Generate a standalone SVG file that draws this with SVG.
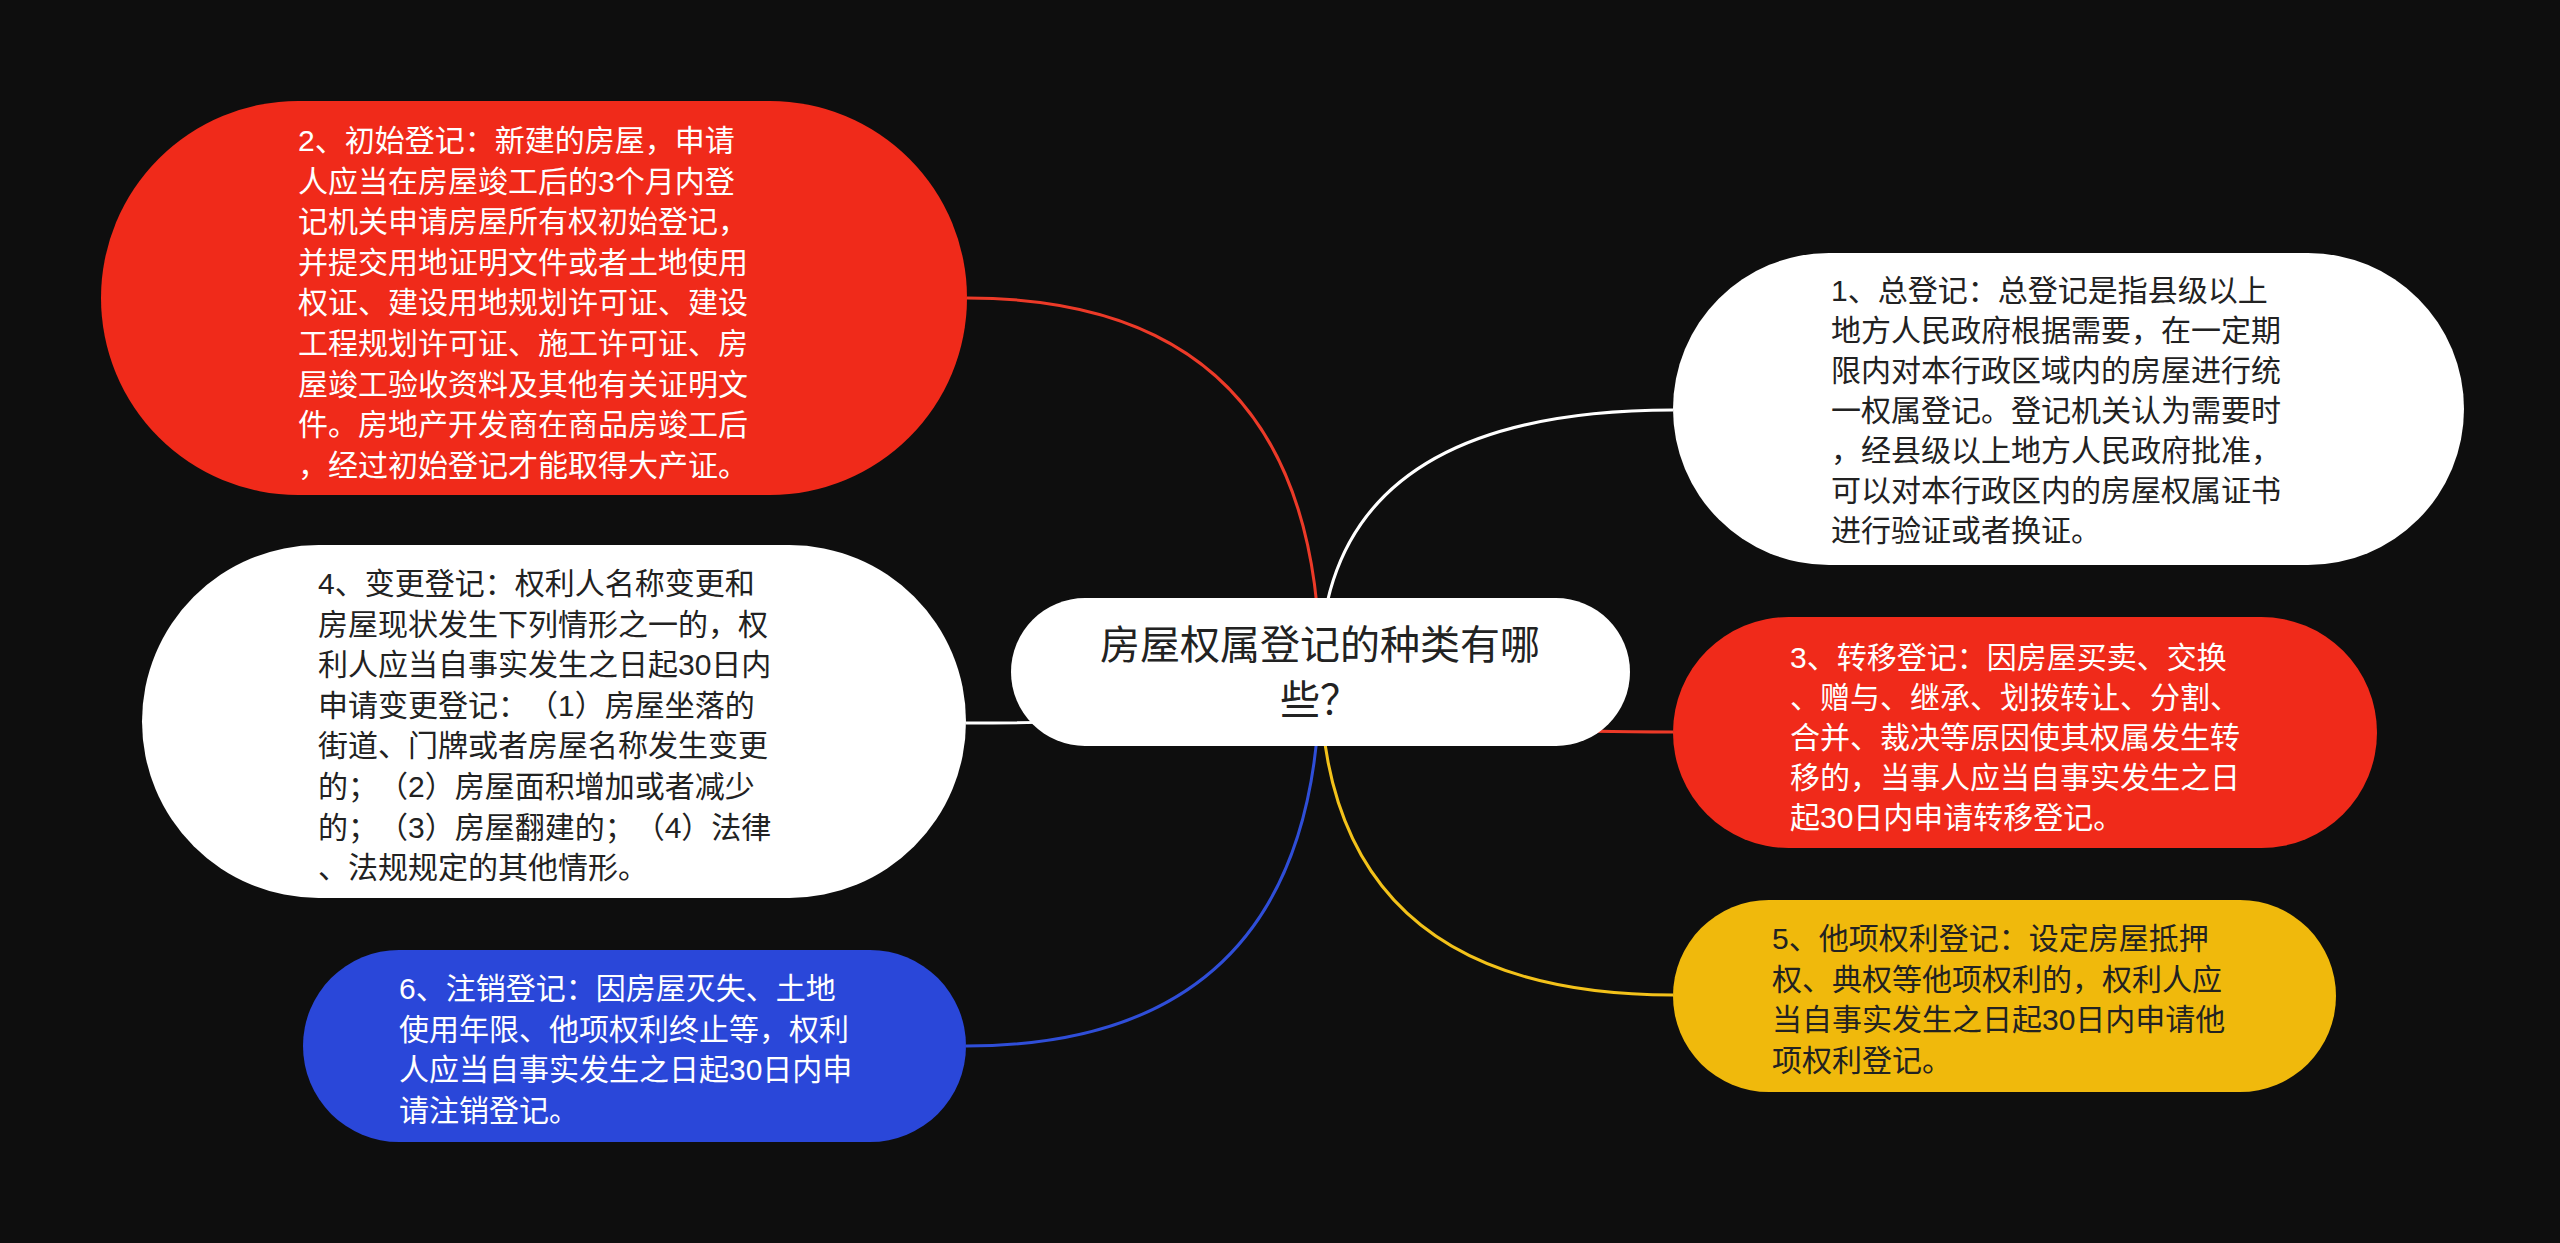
<svg xmlns="http://www.w3.org/2000/svg" width="2560" height="1243" viewBox="0 0 2560 1243">
<style>
.t{font-family:"Liberation Sans","Noto Sans CJK SC",sans-serif;font-size:30px;text-spacing-trim:space-all}
.lt{fill:#ffffff}
.dk{fill:#222222}
.c{fill:none;stroke-width:3}
</style>
<rect x="0" y="0" width="2560" height="1243" fill="#0e0e0e"/>
<g id="connectors">
<path class="c" stroke="#ec3a28" d="M1320 672 Q1320 298 967 298"/>
<path class="c" stroke="#ffffff" d="M1320 672 Q1320 410 1673 410"/>
<path class="c" stroke="#ffffff" d="M1320 672 Q1320 723 966 723"/>
<path class="c" stroke="#ec3a28" d="M1320 672 Q1320 732 1673 732"/>
<path class="c" stroke="#2f4ed8" d="M1320 672 Q1320 1046 966 1046"/>
<path class="c" stroke="#f3c21a" d="M1320 672 Q1320 995 1673 995"/>
</g>
<g id="root">
<rect x="1011" y="598" width="619" height="148" rx="74" fill="#ffffff"/>
<text class="t dk" style="font-size:40px" text-anchor="middle"><tspan x="1320" y="659">房屋权属登记的种类有哪</tspan><tspan x="1320" y="714">些？</tspan></text>
</g>
<g id="node2">
<rect x="101" y="101" width="866" height="394" rx="197" fill="#f02a1a"/>
<text class="t lt"><tspan x="298" y="151">2、初始登记：新建的房屋，申请</tspan><tspan x="298" dy="40.6">人应当在房屋竣工后的3个月内登</tspan><tspan x="298" dy="40.6">记机关申请房屋所有权初始登记，</tspan><tspan x="298" dy="40.6">并提交用地证明文件或者土地使用</tspan><tspan x="298" dy="40.6">权证、建设用地规划许可证、建设</tspan><tspan x="298" dy="40.6">工程规划许可证、施工许可证、房</tspan><tspan x="298" dy="40.6">屋竣工验收资料及其他有关证明文</tspan><tspan x="298" dy="40.6">件。房地产开发商在商品房竣工后</tspan><tspan x="298" dy="40.6">，经过初始登记才能取得大产证。</tspan></text>
</g>
<g id="node4">
<rect x="142" y="545" width="824" height="353" rx="176.5" fill="#ffffff"/>
<text class="t dk"><tspan x="318" y="594">4、变更登记：权利人名称变更和</tspan><tspan x="318" dy="40.6">房屋现状发生下列情形之一的，权</tspan><tspan x="318" dy="40.6">利人应当自事实发生之日起30日内</tspan><tspan x="318" dy="40.6">申请变更登记：（1）房屋坐落的</tspan><tspan x="318" dy="40.6">街道、门牌或者房屋名称发生变更</tspan><tspan x="318" dy="40.6">的；（2）房屋面积增加或者减少</tspan><tspan x="318" dy="40.6">的；（3）房屋翻建的；（4）法律</tspan><tspan x="318" dy="40.6">、法规规定的其他情形。</tspan></text>
</g>
<g id="node6">
<rect x="303" y="950" width="663" height="192" rx="96" fill="#2a47d9"/>
<text class="t lt"><tspan x="399" y="999">6、注销登记：因房屋灭失、土地</tspan><tspan x="399" dy="40.6">使用年限、他项权利终止等，权利</tspan><tspan x="399" dy="40.6">人应当自事实发生之日起30日内申</tspan><tspan x="399" dy="40.6">请注销登记。</tspan></text>
</g>
<g id="node1">
<rect x="1673" y="253" width="791" height="312" rx="156" fill="#ffffff"/>
<text class="t dk"><tspan x="1831" y="301">1、总登记：总登记是指县级以上</tspan><tspan x="1831" dy="40">地方人民政府根据需要，在一定期</tspan><tspan x="1831" dy="40">限内对本行政区域内的房屋进行统</tspan><tspan x="1831" dy="40">一权属登记。登记机关认为需要时</tspan><tspan x="1831" dy="40">，经县级以上地方人民政府批准，</tspan><tspan x="1831" dy="40">可以对本行政区内的房屋权属证书</tspan><tspan x="1831" dy="40">进行验证或者换证。</tspan></text>
</g>
<g id="node3">
<rect x="1673" y="617" width="704" height="231" rx="115.5" fill="#f02a1a"/>
<text class="t lt"><tspan x="1790" y="668">3、转移登记：因房屋买卖、交换</tspan><tspan x="1790" dy="40">、赠与、继承、划拨转让、分割、</tspan><tspan x="1790" dy="40">合并、裁决等原因使其权属发生转</tspan><tspan x="1790" dy="40">移的，当事人应当自事实发生之日</tspan><tspan x="1790" dy="40">起30日内申请转移登记。</tspan></text>
</g>
<g id="node5">
<rect x="1673" y="900" width="663" height="192" rx="96" fill="#f0b90c"/>
<text class="t dk"><tspan x="1772" y="949">5、他项权利登记：设定房屋抵押</tspan><tspan x="1772" dy="40.6">权、典权等他项权利的，权利人应</tspan><tspan x="1772" dy="40.6">当自事实发生之日起30日内申请他</tspan><tspan x="1772" dy="40.6">项权利登记。</tspan></text>
</g>
</svg>
